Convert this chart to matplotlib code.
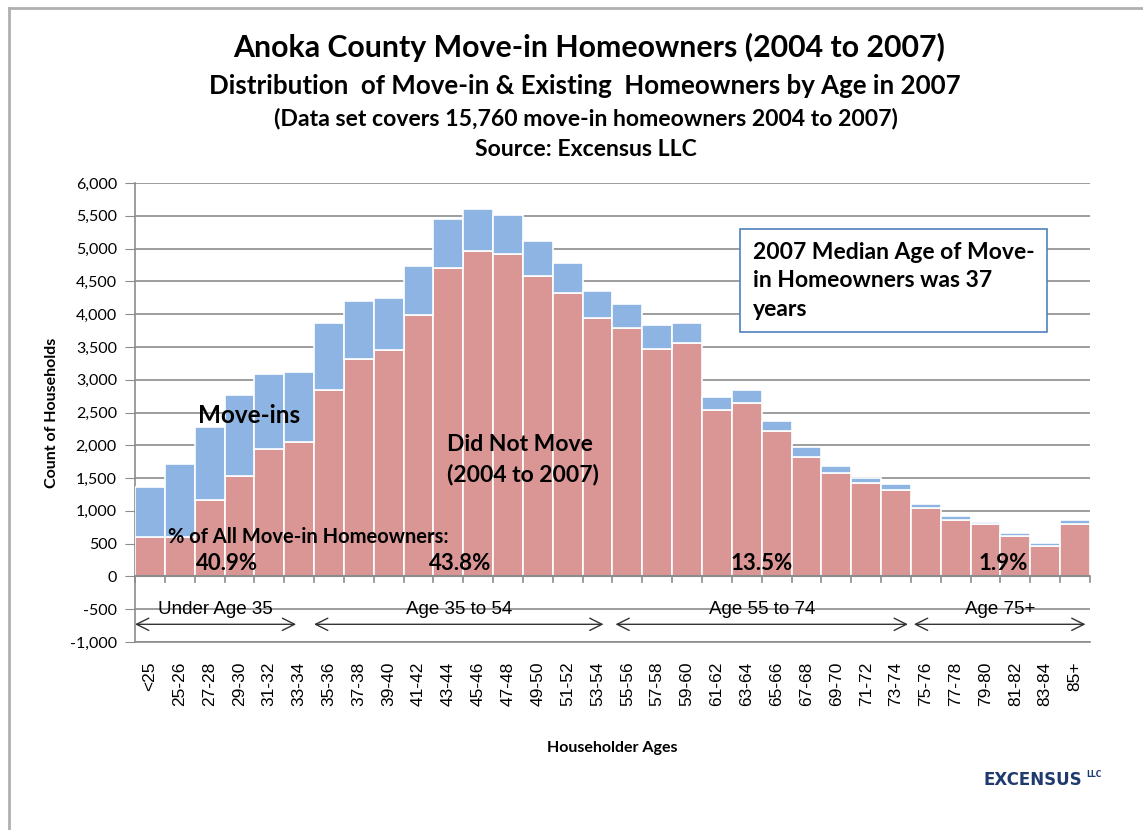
import numpy as np
import matplotlib.pyplot as plt
from matplotlib.lines import Line2D

age_groups = ['<25', '25-26', '27-28', '29-30', '31-32', '33-34', '35-36', '37-38',
              '39-40', '41-42', '43-44', '45-46', '47-48', '49-50', '51-52', '53-54',
              '55-56', '57-58', '59-60', '61-62', '63-64', '65-66', '67-68', '69-70',
              '71-72', '73-74', '75-76', '77-78', '79-80', '81-82', '83-84', '85+']
# homeowners who did not move (2004 to 2007)
did_not_move = [600, 600, 1160, 1530, 1945, 2045, 2840, 3310, 3460, 3985, 4705, 4960,
                4925, 4585, 4325, 3940, 3790, 3475, 3565, 2535, 2650, 2220, 1820, 1570,
                1425, 1325, 1050, 865, 800, 610, 470, 800]
# total homeowners (did not move + move-ins)
total = [1360, 1710, 2285, 2765, 3080, 3120, 3870, 4200, 4240, 4740, 5445, 5610,
         5510, 5110, 4780, 4360, 4155, 3830, 3870, 2730, 2850, 2375, 1978, 1690,
         1505, 1405, 1110, 920, 835, 655, 510, 855]
move_ins = [t - d for t, d in zip(total, did_not_move)]

age_bands = ['Under Age 35', 'Age 35 to 54', 'Age 55 to 74', 'Age 75+']
band_pct = ['40.9%', '43.8%', '13.5%', '1.9%']
band_start = [-0.5, 5.5, 15.6, 25.6]
band_end = [4.9, 15.2, 25.4, 31.35]
yticks = np.arange(-1000, 6001, 500)

FONT = 'Lato'
RED = '#D99694'
BLUE = '#8EB4E3'

fig = plt.figure(figsize=(11.43, 8.30), dpi=100)
ax = fig.add_axes([0.1181, 0.2265, 0.8355, 0.5530])

x = np.arange(len(age_groups))
ax.bar(x, did_not_move, width=1.0, color=RED, edgecolor='white', linewidth=1.2, zorder=3)
ax.bar(x, move_ins, bottom=did_not_move, width=1.0, color=BLUE, edgecolor='white',
       linewidth=1.2, zorder=3)

ax.set_xlim(-0.5, len(age_groups) - 0.5)
ax.set_ylim(-1000, 6000)
ax.set_yticks(yticks)
ax.set_yticklabels(['{:,}'.format(v) for v in yticks], fontfamily=FONT, fontsize=11.5)
ax.yaxis.grid(True, color='#8c8c8c', linewidth=1.2, zorder=0)
ax.tick_params(axis='y', length=7, color='#8c8c8c', pad=6)

ax.set_xticks(x)
ax.set_xticklabels(age_groups, rotation=90, fontfamily='Liberation Sans', fontsize=12.5,
                   va='top')
ax.tick_params(axis='x', length=0, pad=14)

for s in ['top', 'right']:
    ax.spines[s].set_visible(False)
ax.spines['left'].set_color('#8c8c8c')
ax.spines['bottom'].set_color('#8c8c8c')
ax.spines['left'].set_linewidth(1.2)
ax.spines['bottom'].set_linewidth(1.2)

# category axis line at zero with tick marks
ax.axhline(0, color='#8c8c8c', linewidth=1.5, zorder=4)
for xi in np.arange(-0.5, len(age_groups), 1.0):
    ax.plot([xi, xi], [0, -90], color='#8c8c8c', linewidth=1.2, zorder=4, clip_on=False)

ax.set_ylabel('Count of Households', fontfamily=FONT, fontweight='bold', fontsize=11.5,
              labelpad=8)
ax.set_xlabel('Householder Ages', fontfamily=FONT, fontweight='bold', fontsize=11.5,
              labelpad=25)

# age band arrows
for name, pct, a, b in zip(age_bands, band_pct, band_start, band_end):
    ax.annotate('', xy=(a, -730), xytext=(b, -730),
                arrowprops=dict(arrowstyle='<->', color='#333333', lw=1.0,
                                mutation_scale=22, shrinkA=0, shrinkB=0), zorder=5)
    ax.text((a + b) / 2, -500, name, ha='center', va='center', fontfamily='Liberation Sans',
            fontsize=13.5, zorder=5)

pct_x = [2.6, 10.4, 20.5, 28.6]
for px, pct in zip(pct_x, band_pct):
    ax.text(px, 200, pct, ha='center', va='center', fontfamily=FONT, fontweight='bold',
            fontsize=16, zorder=6)
ax.text(0.6, 600, '% of All Move-in Homeowners:', ha='left', va='center', fontfamily=FONT,
        fontweight='bold', fontsize=14.5, zorder=6)
ax.text(1.6, 2450, 'Move-ins', ha='left', va='center', fontfamily=FONT, fontweight='bold',
        fontsize=17.5, zorder=6)
ax.text(9.95, 1780, 'Did Not Move\n(2004 to 2007)', ha='left', va='center',
        fontfamily=FONT, fontweight='bold', fontsize=16.5, linespacing=1.45, zorder=6)

ax.text(20.2, 4510, '2007 Median Age of Move-\nin Homeowners was 37\nyears', ha='left',
        va='center', fontfamily=FONT, fontweight='bold', fontsize=16.5, linespacing=1.45,
        zorder=7,
        bbox=dict(boxstyle='square,pad=0.55', facecolor='white', edgecolor='#4F81BD',
                  linewidth=1.2))

# titles
fig.text(0.515, 0.943, 'Anoka County Move-in Homeowners (2004 to 2007)', ha='center',
         va='center', fontfamily=FONT, fontweight='bold', fontsize=21.8)
fig.text(0.512, 0.896, 'Distribution  of Move-in & Existing  Homeowners by Age in 2007',
         ha='center', va='center', fontfamily=FONT, fontweight='bold', fontsize=18.6)
fig.text(0.513, 0.857, '(Data set covers 15,760 move-in homeowners 2004 to 2007)',
         ha='center', va='center', fontfamily=FONT, fontweight='bold', fontsize=16.6)
fig.text(0.513, 0.820, 'Source: Excensus LLC', ha='center', va='center', fontfamily=FONT,
         fontweight='bold', fontsize=16.6)

# logo
fig.text(0.904, 0.060, 'EXCENSUS', ha='center', va='center', fontfamily='DejaVu Sans',
         fontweight='bold', fontsize=12, color='#1F3A6E')
fig.text(0.957, 0.067, 'LLC', ha='center', va='center', fontfamily='DejaVu Sans',
         fontweight='bold', fontsize=5.5, color='#1F3A6E')

# chart frame
fig.add_artist(Line2D([9 / 1143, 9 / 1143], [0, 1 - 8 / 830], color='#b0b0b0', lw=2))
fig.add_artist(Line2D([9 / 1143, 1], [1 - 8 / 830, 1 - 8 / 830], color='#b0b0b0', lw=2))

fig.savefig('out.png', dpi=100)
